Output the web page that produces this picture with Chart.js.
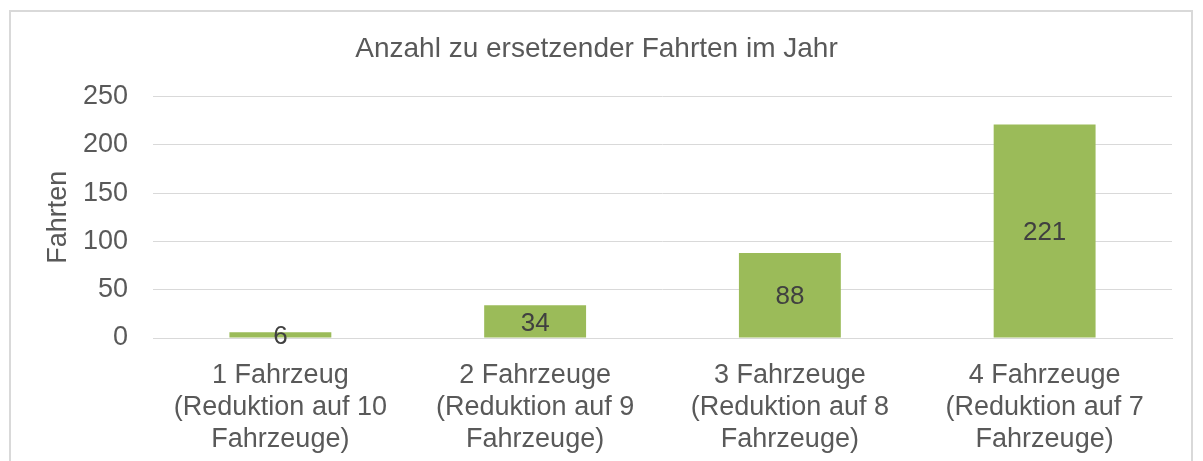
<!DOCTYPE html>
<html>
<head>
<meta charset="utf-8">
<script src="https://cdn.jsdelivr.net/npm/chart.js@4/dist/chart.umd.min.js"></script>
<style>
  html, body { margin: 0; padding: 0; background: #fff; overflow: hidden; }
  #box {
    position: absolute; left: 9px; top: 10px;
    width: 1184px; height: 470px;
    border: 2px solid #d9d9d9; box-sizing: border-box;
  }
  #wrap { position: absolute; left: 0; top: 0; width: 1180px; height: 449px; }
</style>
</head>
<body>
<div id="box"><div id="wrap"><canvas id="c"></canvas></div></div>
<script>
// Daten
var categories = [
  ["1 Fahrzeug", "(Reduktion auf 10", "Fahrzeuge)"],
  ["2 Fahrzeuge", "(Reduktion auf 9", "Fahrzeuge)"],
  ["3 Fahrzeuge", "(Reduktion auf 8", "Fahrzeuge)"],
  ["4 Fahrzeuge", "(Reduktion auf 7", "Fahrzeuge)"]
];
var fahrten = [6, 34, 88, 221];
var yTicks = [0, 50, 100, 150, 200, 250];

var FONT = "'Liberation Sans', Arial, sans-serif";

// Werte mittig in die Balken schreiben
var labelPlugin = {
  id: 'barValues',
  afterDatasetsDraw: function(chart) {
    var ctx = chart.ctx;
    var meta = chart.getDatasetMeta(0);
    ctx.save();
    ctx.font = '26px ' + FONT;
    ctx.fillStyle = '#404040';
    ctx.textAlign = 'center';
    ctx.textBaseline = 'middle';
    meta.data.forEach(function(bar, i) {
      var mid = (bar.y + bar.base) / 2;
      ctx.fillText(String(fahrten[i]), bar.x, mid + 2);
    });
    ctx.restore();
  }
};

new Chart(document.getElementById('c'), {
  type: 'bar',
  data: {
    labels: categories,
    datasets: [{
      data: fahrten,
      backgroundColor: '#9bbb59',
      borderWidth: 0,
      categoryPercentage: 0.8,
      barPercentage: 0.5
    }]
  },
  options: {
    responsive: true,
    maintainAspectRatio: false,
    animation: false,
    layout: { padding: { left: 10, right: 19, top: 0, bottom: 8 } },
    plugins: {
      legend: { display: false },
      tooltip: { enabled: false },
      title: {
        display: true,
        text: 'Anzahl zu ersetzender Fahrten im Jahr',
        color: '#595959',
        font: { family: FONT, size: 28, weight: 'normal' },
        padding: { top: 20, bottom: 31 }
      }
    },
    scales: {
      x: {
        afterFit: function(scale) { scale.height = 115; },
        grid: { display: false, drawTicks: false },
        border: { display: true, color: '#d9d9d9', width: 1 },
        ticks: {
          color: '#595959',
          padding: 21,
          maxRotation: 0,
          autoSkip: false,
          font: { family: FONT, size: 27, lineHeight: 1.19 }
        }
      },
      y: {
        min: 0,
        max: 250,
        afterFit: function(scale) { scale.width = 132; },
        afterBuildTicks: function(scale) {
          scale.ticks = yTicks.map(function(v) { return { value: v }; });
        },
        grid: { color: '#d9d9d9', lineWidth: 1, drawTicks: false },
        border: { display: false },
        ticks: {
          color: '#595959',
          padding: 25,
          font: { family: FONT, size: 27 }
        },
        title: {
          display: true,
          text: 'Fahrten',
          color: '#595959',
          font: { family: FONT, size: 27 },
          padding: { top: 21, bottom: 0 }
        }
      }
    }
  },
  plugins: [labelPlugin]
});
</script>
</body>
</html>
